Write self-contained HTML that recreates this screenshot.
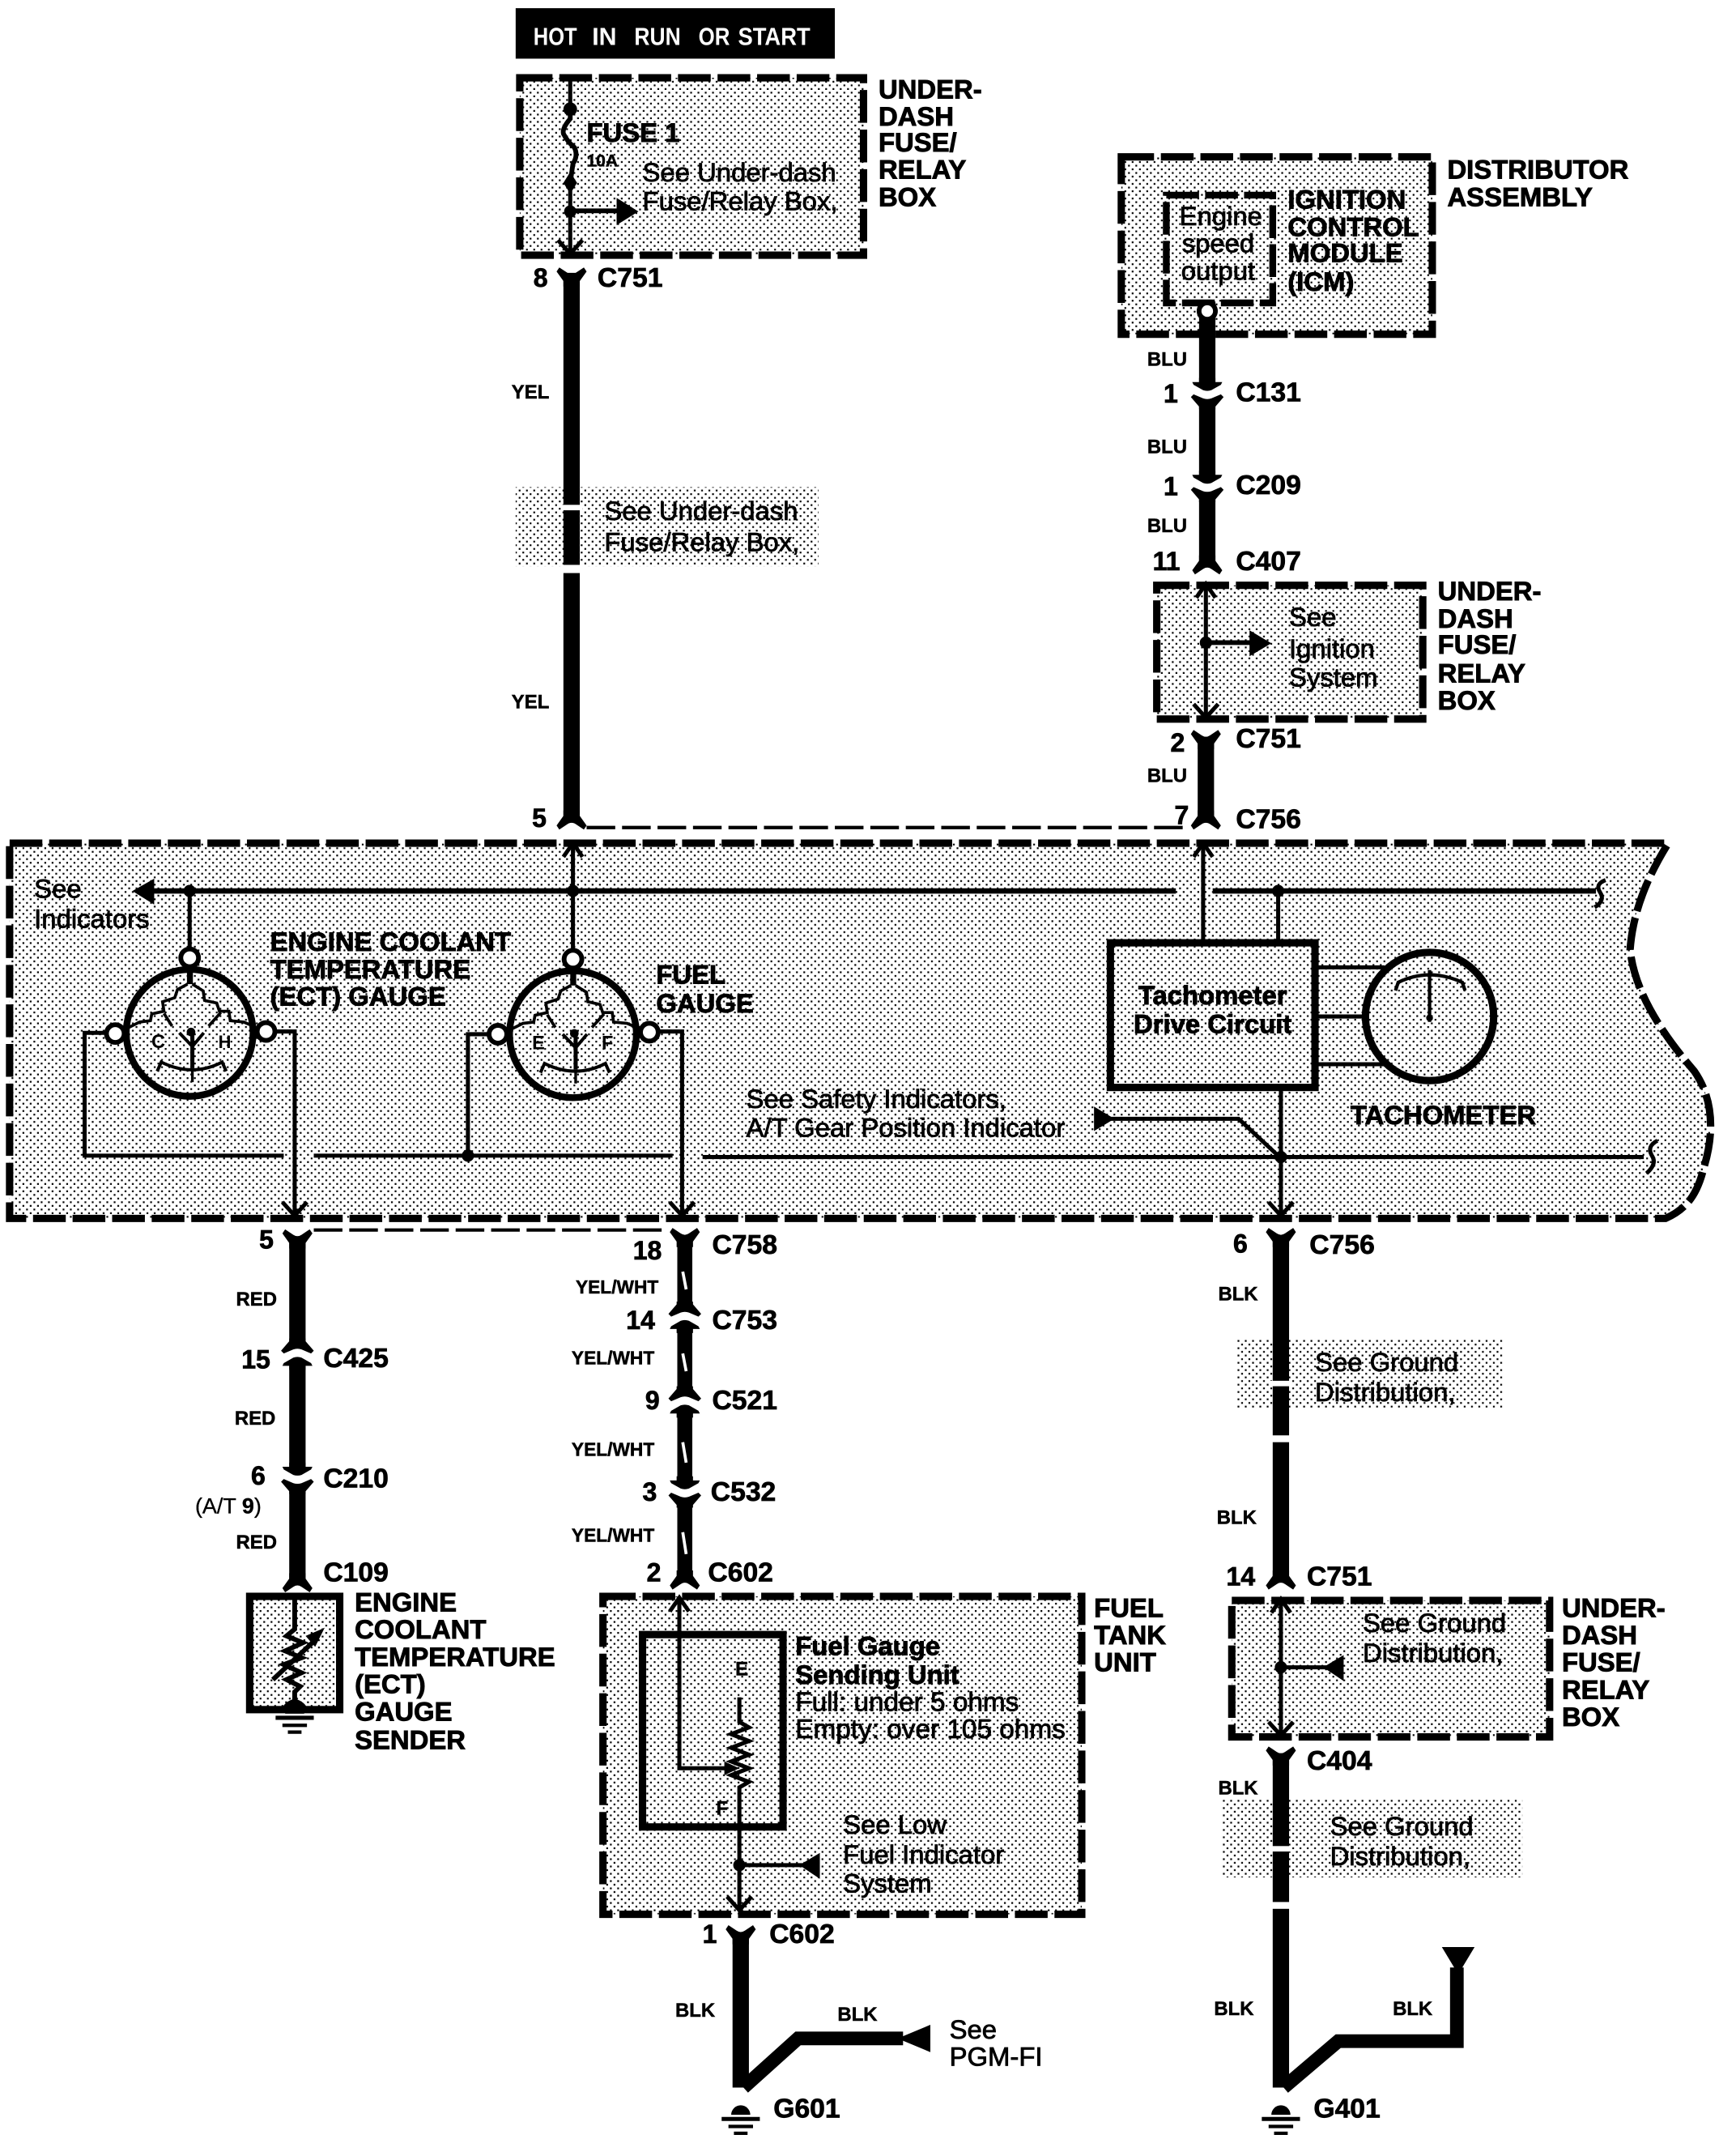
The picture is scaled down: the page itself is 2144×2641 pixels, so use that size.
<!DOCTYPE html>
<html><head><meta charset="utf-8"><style>
html,body{margin:0;padding:0;background:#fff}
svg{display:block}
text{font-family:"Liberation Sans",sans-serif;fill:#000;stroke:#000;stroke-width:.5}
.b{font-weight:bold;font-size:19.5px;stroke-width:.55}
.c{font-weight:bold;font-size:20px;stroke-width:.45}
.p{font-weight:bold;font-size:19px;stroke-width:.45}
.r{font-size:19.5px}
.s{font-weight:bold;font-size:14.2px;stroke-width:.3}
.n{fill:url(#d);stroke:#000;stroke-width:5.4;stroke-dasharray:24 5}
.w{fill:none;stroke:#000;stroke-width:3}
.t{fill:none;stroke:#000;stroke-width:12}
.m{fill:none;stroke:#000;stroke-width:4}
</style></head><body>
<svg xmlns="http://www.w3.org/2000/svg" width="2144" height="2641" viewBox="0 0 1272.600 1567.700">
<defs>
<pattern id="d" width="5.35" height="5.35" patternUnits="userSpaceOnUse">
<rect width="5.35" height="5.35" fill="#fff"/><rect x=".4" y=".4" width="1.3" height="1.3" fill="#000"/><rect x="3.07" y="3.07" width="1.3" height="1.3" fill="#000"/>
</pattern>
<path id="yt" d="M-11 -7L-9 -10L-3 -6Q0 -4 3 -6L9 -10L11 -7L6 0V4H-6V0Z"/>
<path id="yb" d="M-11 7L-9 10L-3 6Q0 4 3 6L9 10L11 7L6 0V-4H-6V0Z"/>
<g id="cd"><rect x="-13" y="-8" width="26" height="16" fill="#fff"/><path d="M-6 -11V-8H-11L-10 -6L-3 -2Q0 -1 3 -2L10 -6L11 -8H6V-11Z"/><path d="M-10 1L-12 3L-6 10V12H6V10L12 3L10 1L3 4Q0 5 -3 4Z"/></g>
<g id="cu"><rect x="-13" y="-8" width="26" height="16" fill="#fff"/><path d="M-6 11V8H-11L-10 6L-3 2Q0 1 3 2L10 6L11 8H6V11Z"/><path d="M-10 -1L-12 -3L-6 -10V-12H6V-10L12 -3L10 -1L3 -4Q0 -5 -3 -4Z"/></g>
<g id="up"><path d="M-7 10L0 0L7 10" fill="none" stroke="#000" stroke-width="3"/></g>
<g id="dn"><path d="M-9 -10L0 0L9 -10" fill="none" stroke="#000" stroke-width="3"/></g>
<g id="gnd"><path d="M-7 -2A7 7 0 0 1 7 -2Z"/><path d="M-14 1H14" stroke="#000" stroke-width="3"/><path d="M-9 6.500H9" stroke="#000" stroke-width="2.500"/><path d="M-5 11.500H5" stroke="#000" stroke-width="2.500"/></g>
<g id="gi">
<path d="M300 130H322V190H300Z"/>
<path d="M302 190L265 210L255 240L210 255L215 290L170 300L165 325L125 330L85 350M215 298L245 345M320 190L360 215L365 250L410 260L420 290L455 290L460 325L510 330L545 345M425 295L380 345" fill="none" stroke="#000" stroke-width="11"/>
<circle cx="315" cy="367" r="16"/>
<path d="M272 370L320 420L362 370" fill="none" stroke="#000" stroke-width="12"/>
<path d="M320 370V500" stroke="#000" stroke-width="15"/>
<path d="M320 500V552" stroke="#000" stroke-width="10"/>
<path d="M190 512L205 478Q320 535 430 478L445 512" fill="none" stroke="#000" stroke-width="12"/>
</g>
</defs>

<!-- top black label -->
<rect x="378" y="6" width="234" height="37" fill="#000"/>
<g style="font-weight:bold;font-size:18px">
<text x="391" y="33" textLength="32" lengthAdjust="spacingAndGlyphs" style="fill:#fff;stroke:#fff;stroke-width:0">HOT</text>
<text x="434" y="33" textLength="18" lengthAdjust="spacingAndGlyphs" style="fill:#fff;stroke:#fff;stroke-width:0">IN</text>
<text x="465" y="33" textLength="34" lengthAdjust="spacingAndGlyphs" style="fill:#fff;stroke:#fff;stroke-width:0">RUN</text>
<text x="512" y="33" textLength="23" lengthAdjust="spacingAndGlyphs" style="fill:#fff;stroke:#fff;stroke-width:0">OR</text>
<text x="541" y="33" textLength="53" lengthAdjust="spacingAndGlyphs" style="fill:#fff;stroke:#fff;stroke-width:0">START</text>
</g>

<!-- fuse box -->
<rect class="n" x="381" y="57" width="252" height="130"/>
<path class="w" d="M418 57V80"/>
<circle cx="418" cy="80" r="5"/>
<path d="M418 80V87Q412 94 413 98Q416 104 421 108Q424 114 420 120L418 134" fill="none" stroke="#000" stroke-width="3.500"/>
<path d="M418 126L423 134L418 142L413 134Z"/>
<path class="w" d="M418 134V186"/>
<circle cx="418" cy="155" r="4.500"/>
<path d="M418 154.500H455" stroke="#000" stroke-width="3.500"/>
<path d="M452 145L468 155L452 165Z"/>
<use href="#dn" x="418" y="186"/>
<text class="b" x="430" y="104">FUSE 1</text>
<text class="s" x="430" y="122" style="font-size:12.5px">10A</text>
<text class="r" x="471" y="133">See Under-dash</text>
<text class="r" x="471" y="154">Fuse/Relay Box,</text>
<text class="b" x="644" y="72">UNDER-</text><text class="b" x="644" y="92">DASH</text><text class="b" x="644" y="111">FUSE/</text><text class="b" x="644" y="131">RELAY</text><text class="b" x="644" y="151">BOX</text>

<!-- YEL wire -->
<rect x="378" y="357" width="222" height="58" fill="url(#d)"/>
<path class="t" d="M419 200V600"/>
<rect x="411" y="370" width="16" height="4" fill="#fff"/>
<rect x="411" y="414" width="16" height="6" fill="#fff"/>
<use href="#yt" x="419" y="206"/><use href="#yb" x="419" y="598"/>
<text class="p" x="391" y="210">8</text>
<text class="c" x="438" y="210">C751</text>
<text class="s" x="375" y="292">YEL</text>
<text class="s" x="375" y="519">YEL</text>
<text class="r" x="443" y="381">See Under-dash</text>
<text class="r" x="443" y="404">Fuse/Relay Box,</text>

<!-- distributor -->
<rect class="n" x="822" y="115" width="228" height="130"/>
<rect x="855" y="143" width="78" height="79" fill="none" stroke="#000" stroke-width="5" stroke-dasharray="24 4.500"/>
<text class="r" x="895" y="165" text-anchor="middle">Engine</text>
<text class="r" x="893" y="185" text-anchor="middle">speed</text>
<text class="r" x="893" y="205" text-anchor="middle">output</text>
<text class="b" x="944" y="153">IGNITION</text><text class="b" x="944" y="173">CONTROL</text><text class="b" x="944" y="192">MODULE</text><text class="b" x="944" y="213">(ICM)</text>
<text class="b" x="1061" y="131">DISTRIBUTOR</text><text class="b" x="1061" y="151">ASSEMBLY</text>
<path class="t" d="M885 221V412"/>
<circle cx="885" cy="228" r="6" fill="#fff" stroke="#000" stroke-width="3.500"/>
<use href="#cd" x="885" y="288"/><use href="#cd" x="885" y="356"/><use href="#yb" x="885" y="411"/>
<text class="s" x="841" y="268">BLU</text><text class="s" x="841" y="332">BLU</text><text class="s" x="841" y="390">BLU</text><text class="s" x="841" y="573">BLU</text>
<text class="p" x="853" y="295">1</text><text class="c" x="906" y="294">C131</text>
<text class="p" x="853" y="363">1</text><text class="c" x="906" y="362">C209</text>
<text class="p" x="845" y="418">11</text><text class="c" x="906" y="418">C407</text>

<!-- under dash 2 -->
<rect class="n" x="848" y="429" width="195" height="98"/>
<path class="w" d="M884 429V526"/>
<use href="#up" x="884" y="428"/><use href="#dn" x="884" y="526"/>
<circle cx="884" cy="471" r="4.500"/>
<path d="M884 471H920" stroke="#000" stroke-width="3.500"/><path d="M916 462L932 471.500L916 481Z"/>
<text class="r" x="945" y="459">See</text><text class="r" x="945" y="482">Ignition</text><text class="r" x="945" y="503">System</text>
<text class="b" x="1054" y="440">UNDER-</text><text class="b" x="1054" y="460">DASH</text><text class="b" x="1054" y="479">FUSE/</text><text class="b" x="1054" y="500">RELAY</text><text class="b" x="1054" y="520">BOX</text>
<path class="t" d="M884 540V600"/>
<use href="#yt" x="884" y="545"/><use href="#yb" x="884" y="598"/>
<text class="p" x="858" y="551">2</text><text class="c" x="906" y="548">C751</text>
<text class="p" x="861" y="604">7</text><text class="c" x="906" y="607">C756</text>
<text class="p" x="390" y="606">5</text>
<path d="M430 606.500H870" stroke="#000" stroke-width="2.500" stroke-dasharray="21 5"/>

<!-- main cluster -->
<path class="n" d="M7 618H1223C1208 642 1197 668 1195 696C1198 725 1216 755 1242 785C1256 805 1257 830 1249 856C1245 872 1239 885 1221 893H7Z"/>
<path class="m" d="M105 653H862M889 653H1170"/>
<path d="M1177 645Q1169 648 1173 654Q1177 660 1169 665" fill="none" stroke="#000" stroke-width="3"/>
<path d="M97 653L113 644V663Z"/>
<circle cx="139" cy="653" r="4.500"/><circle cx="420" cy="653" r="4.500"/><circle cx="937" cy="653" r="4.500"/>
<path class="w" d="M139 653V696M420 620V696M882 620V691M937 653V691"/>
<use href="#up" x="420" y="618"/><use href="#up" x="882" y="618"/>

<g>
<circle cx="139" cy="757" r="46.500" fill="none" stroke="#000" stroke-width="5"/>
<circle cx="139" cy="702" r="6.500" fill="#fff" stroke="#000" stroke-width="3.500"/>
<circle cx="84.500" cy="757.500" r="6.500" fill="#fff" stroke="#000" stroke-width="3.500"/>
<circle cx="195" cy="756" r="6.500" fill="#fff" stroke="#000" stroke-width="3.500"/>
<use href="#gi" transform="translate(139 757) scale(.1984) translate(-310 -370)"/>
<text x="111" y="768" style="font-size:14px;font-weight:bold;stroke-width:0">C</text><text x="160" y="768" style="font-size:13px;font-weight:bold;stroke-width:0">H</text>
</g>
<g>
<circle cx="420" cy="758" r="46.500" fill="none" stroke="#000" stroke-width="5"/>
<circle cx="420" cy="703" r="6.500" fill="#fff" stroke="#000" stroke-width="3.500"/>
<circle cx="365" cy="758" r="6.500" fill="#fff" stroke="#000" stroke-width="3.500"/>
<circle cx="476" cy="756.500" r="6.500" fill="#fff" stroke="#000" stroke-width="3.500"/>
<use href="#gi" transform="translate(420 758) scale(.1984) translate(-310 -370)"/>
<text x="390" y="769" style="font-size:14px;font-weight:bold;stroke-width:0">E</text><text x="441" y="769" style="font-size:14px;font-weight:bold;stroke-width:0">F</text>
</g>
<path class="w" d="M77 757H62V847H208M230 847H493M515 848H1205M203 756H216V890M358 758H343V847M484 756H500V890"/>
<circle cx="343" cy="847" r="4.500"/>
<path d="M1215 836Q1207 840 1211 847Q1215 853 1207 860" fill="none" stroke="#000" stroke-width="3"/>
<use href="#dn" x="216" y="891"/><use href="#dn" x="500" y="891"/>

<rect x="814" y="691" width="150" height="106" fill="none" stroke="#000" stroke-width="5.400"/>
<text class="b" x="889" y="736" text-anchor="middle">Tachometer</text>
<text class="b" x="889" y="757" text-anchor="middle">Drive Circuit</text>
<circle cx="1048" cy="745" r="47" fill="none" stroke="#000" stroke-width="5.400"/>
<path class="w" d="M964 709H1015M964 745H1002M964 780H1015"/>
<path d="M1023 726L1025 720Q1048 709 1072 720L1074 726" fill="none" stroke="#000" stroke-width="2.500"/>
<path d="M1048 711V749" stroke="#000" stroke-width="2.500"/><circle cx="1048" cy="746" r="2.500"/>
<text class="b" x="990" y="824">TACHOMETER</text>
<path class="w" d="M939 797V891M812 820H908L938 848"/>
<path d="M802 811L817 820L802 829Z"/>
<circle cx="939" cy="848" r="4.500"/>
<use href="#dn" x="939" y="891"/>
<text class="r" x="547" y="812">See Safety Indicators,</text>
<text class="r" x="547" y="833">A/T Gear Position Indicator</text>
<text class="r" x="25" y="658">See</text><text class="r" x="25" y="680">Indicators</text>
<text class="b" x="198" y="697">ENGINE COOLANT</text><text class="b" x="198" y="717">TEMPERATURE</text><text class="b" x="198" y="737">(ECT) GAUGE</text>
<text class="b" x="481" y="721">FUEL</text><text class="b" x="481" y="742">GAUGE</text>

<!-- ECT wire -->
<path d="M230 901.500H490" stroke="#000" stroke-width="2.500" stroke-dasharray="21 5"/>
<path class="t" d="M218 908V1160"/>
<use href="#yt" x="218" y="911"/>
<use href="#cu" x="218" y="993"/><use href="#cd" x="218" y="1083"/><use href="#yb" x="218" y="1157"/>
<text class="p" x="190" y="915">5</text>
<text class="s" x="173" y="957">RED</text><text class="s" x="172" y="1044">RED</text><text class="s" x="173" y="1135">RED</text>
<text class="p" x="177" y="1003">15</text><text class="c" x="237" y="1002">C425</text>
<text class="p" x="184" y="1088">6</text><text class="c" x="237" y="1090">C210</text>
<text x="143" y="1109" style="font-size:16px;stroke-width:.2">(A/T <tspan font-weight="bold">9</tspan>)</text>
<text class="c" x="237" y="1159">C109</text>
<rect x="183" y="1170" width="66" height="83" fill="url(#d)" stroke="#000" stroke-width="5.400"/>
<path d="M216 1170V1194L210 1199L222 1204L209 1210L221 1215L208 1220L221 1226L210 1231L220 1236L216 1240V1250" fill="none" stroke="#000" stroke-width="3.500"/>
<path d="M200 1231L230 1203" stroke="#000" stroke-width="3.500"/><path d="M238 1193L224 1199L231 1207Z"/>
<path d="M206 1254Q208 1247 216 1245Q224 1247 226 1254Z"/>
<use href="#gnd" x="216" y="1258"/>
<text class="b" x="260" y="1181">ENGINE</text><text class="b" x="260" y="1201">COOLANT</text><text class="b" x="260" y="1221">TEMPERATURE</text><text class="b" x="260" y="1241">(ECT)</text><text class="b" x="260" y="1261">GAUGE</text><text class="b" x="260" y="1282">SENDER</text>

<!-- fuel wire -->
<path d="M502 908V1158" stroke="#000" stroke-width="11"/>
<g stroke="#fff" stroke-width="2.200"><path d="M500.500 932L503 945M500.500 992L503 1005M500.500 1057L503 1072M500.500 1123L503 1139"/></g>
<use href="#yt" x="502" y="910"/>
<use href="#cu" x="502" y="966"/><use href="#cu" x="502" y="1028"/><use href="#cd" x="502" y="1093"/><use href="#yb" x="502" y="1155"/>
<text class="p" x="464" y="923">18</text><text class="c" x="522" y="919">C758</text>
<text class="s" x="422" y="948" style="font-size:13.500px">YEL/WHT</text>
<text class="p" x="459" y="974">14</text><text class="c" x="522" y="974">C753</text>
<text class="s" x="419" y="1000" style="font-size:13.500px">YEL/WHT</text>
<text class="p" x="473" y="1033">9</text><text class="c" x="522" y="1033">C521</text>
<text class="s" x="419" y="1067" style="font-size:13.500px">YEL/WHT</text>
<text class="p" x="471" y="1100">3</text><text class="c" x="521" y="1100">C532</text>
<text class="s" x="419" y="1130" style="font-size:13.500px">YEL/WHT</text>
<text class="p" x="474" y="1159">2</text><text class="c" x="519" y="1159">C602</text>

<!-- fuel tank -->
<rect class="n" x="442" y="1170" width="351" height="233"/>
<rect x="471" y="1198" width="103" height="141" fill="none" stroke="#000" stroke-width="5.400"/>
<path class="w" d="M498 1173V1296H536"/>
<path d="M531 1291L542 1296L531 1301Z"/>
<use href="#up" x="498" y="1171"/>
<path class="w" d="M542 1244V1262L549 1266L536 1271L549 1276L536 1281L549 1286L536 1291L549 1296L536 1301L549 1306L542 1310V1400"/>
<circle cx="542" cy="1367" r="4.500"/>
<path d="M542 1367H590" stroke="#000" stroke-width="3"/><path d="M601 1358V1377L586 1367Z"/>
<use href="#dn" x="542" y="1400"/>
<text class="s" x="539" y="1228">E</text><text class="s" x="525" y="1330">F</text>
<text class="b" x="583" y="1213">Fuel Gauge</text><text class="b" x="583" y="1234">Sending Unit</text>
<text class="r" x="583" y="1254" style="font-size:19.800px">Full: under 5 ohms</text><text class="r" x="583" y="1274" style="font-size:19.800px">Empty: over 105 ohms</text>
<text class="r" x="618" y="1344">See Low</text><text class="r" x="618" y="1366">Fuel Indicator</text><text class="r" x="618" y="1387">System</text>
<text class="b" x="802" y="1185">FUEL</text><text class="b" x="802" y="1205">TANK</text><text class="b" x="802" y="1225">UNIT</text>

<path class="t" d="M543 1420V1530"/>
<use href="#yt" x="543" y="1421"/>
<path d="M545 1530L585 1494H662" fill="none" stroke="#000" stroke-width="10"/>
<path d="M682 1484V1504L658 1494Z"/>
<use href="#gnd" x="543" y="1552"/>
<text class="p" x="515" y="1424">1</text><text class="c" x="564" y="1424">C602</text>
<text class="s" x="495" y="1478">BLK</text><text class="s" x="614" y="1481">BLK</text>
<text class="r" x="696" y="1494">See</text><text class="r" x="696" y="1514">PGM-FI</text>
<text class="c" x="567" y="1552">G601</text>

<!-- right ground wire -->
<rect x="907" y="981" width="195" height="51" fill="url(#d)"/>
<rect x="896" y="1319" width="220" height="57" fill="url(#d)"/>
<path class="t" d="M939 906V1158M939 1285V1530"/>
<rect x="931" y="1012" width="16" height="4" fill="#fff"/><rect x="931" y="1052" width="16" height="5" fill="#fff"/>
<rect x="931" y="1353" width="16" height="4" fill="#fff"/><rect x="931" y="1394" width="16" height="5" fill="#fff"/>
<use href="#yt" x="939" y="910"/><use href="#yb" x="939" y="1155"/><use href="#yt" x="939" y="1290"/>
<text class="p" x="904" y="918">6</text><text class="c" x="960" y="919">C756</text>
<text class="s" x="893" y="953">BLK</text><text class="s" x="892" y="1117">BLK</text>
<text class="r" x="964" y="1005">See Ground</text><text class="r" x="964" y="1027">Distribution,</text>
<text class="p" x="899" y="1162">14</text><text class="c" x="958" y="1162">C751</text>
<rect class="n" x="903" y="1173" width="233" height="100"/>
<path class="w" d="M939 1174V1272"/>
<use href="#up" x="939" y="1172"/><use href="#dn" x="939" y="1272"/>
<circle cx="939" cy="1222" r="4.500"/>
<path d="M939 1222H975" stroke="#000" stroke-width="3"/><path d="M985 1213V1232L970 1222Z"/>
<text class="r" x="999" y="1196">See Ground</text><text class="r" x="999" y="1218">Distribution,</text>
<text class="b" x="1145" y="1185">UNDER-</text><text class="b" x="1145" y="1205">DASH</text><text class="b" x="1145" y="1225">FUSE/</text><text class="b" x="1145" y="1245">RELAY</text><text class="b" x="1145" y="1265">BOX</text>
<text class="c" x="958" y="1297">C404</text>
<text class="s" x="893" y="1315">BLK</text>
<text class="r" x="975" y="1345">See Ground</text><text class="r" x="975" y="1367">Distribution,</text>
<text class="s" x="890" y="1477">BLK</text><text class="s" x="1021" y="1477">BLK</text>
<path d="M941 1530L981 1496H1068V1442" fill="none" stroke="#000" stroke-width="10"/>
<path d="M1057 1427H1081L1069 1447Z"/>
<use href="#gnd" x="939" y="1552"/>
<text class="c" x="963" y="1552">G401</text>
</svg>
</body></html>
